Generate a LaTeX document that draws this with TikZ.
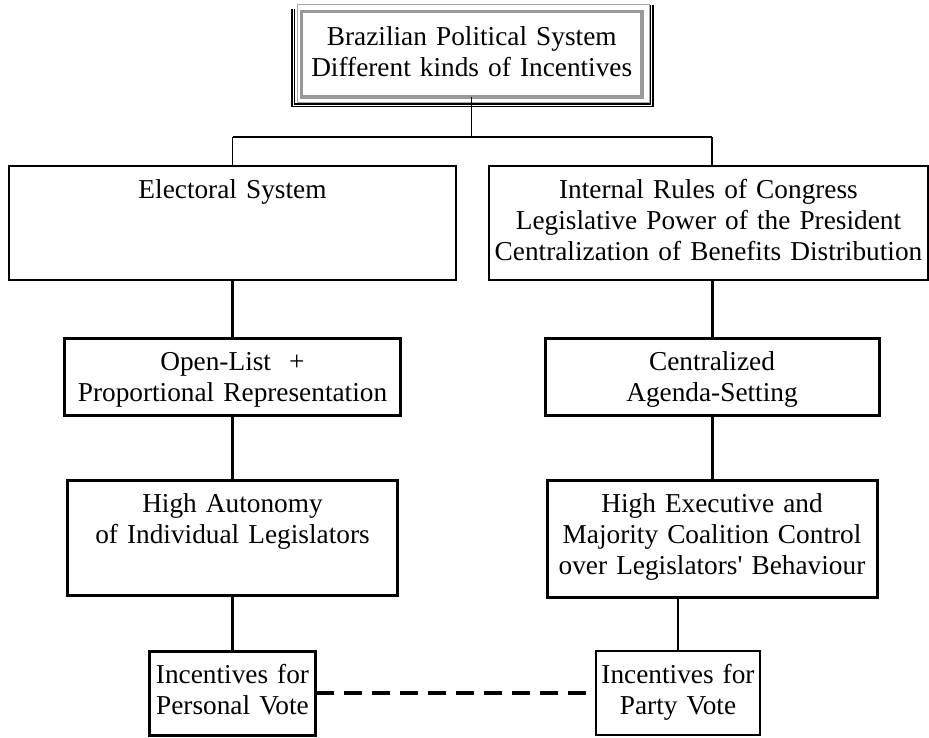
\documentclass[tikz,border=0pt]{standalone}
\usepackage{fontspec}
\setmainfont{Liberation Serif}
\usepackage{tikz}
\usetikzlibrary{positioning}
\tikzstyle{box}     = [rectangle, draw=black, line width=1.3pt, inner sep=0pt, outer sep=0pt, align=center, text height=32pt]
\tikzstyle{boldbox} = [box, line width=3pt]
\tikzstyle{link}    = [line width=1.3pt]
\tikzstyle{boldlink}= [line width=3pt]
\tikzstyle{dashlink}= [line width=4pt, dash pattern=on 18pt off 10pt]

\begin{document}
\begin{tikzpicture}[x=1pt, y=1pt, every node/.style={font=\fontsize{27.3pt}{31pt}\selectfont}]
  \useasboundingbox (0,0) rectangle (929,-737);

  % Top frame
  \node[box, draw=black!40, line width=3.5pt, anchor=north west, text width=340.5pt, text height=33.5pt, text depth=52pt] (sys) at (301.5,-11.5) {Brazilian Political System\\Different kinds of Incentives};
  \draw[black!35, line width=1pt] ([shift={(-4.5,7.5)}]sys.north west) rectangle ([shift={(7,-5)}]sys.south east);
  \draw[line width=1.2pt] ([shift={(-9.5,2.5)}]sys.north west) |- ([shift={(11,-9.5)}]sys.south east) -- ([shift={(11,6.5)}]sys.north east);
  \draw[line width=1.2pt] ([shift={(-7,2.5)}]sys.north west) |- ([shift={(8.5,-7)}]sys.south east) -- ([shift={(8.5,6.5)}]sys.north east);

  % Sources of incentives
  \node[box, text width=447pt, text depth=82pt] (elec) at (232.5,-166) [anchor=north] {Electoral System};
  \node[box, text width=439pt, text depth=82pt] (rules) at (708.5,-166) [anchor=north] {Internal Rules of Congress\\Legislative Power of the President\\Centralization of Benefits Distribution};

  % Left branch
  \node[boldbox, text width=336pt, text depth=45pt, below=58pt of elec] (open) {Open-List\ \ +\\Proportional Representation};
  \node[boldbox, text width=330pt, text depth=83pt, below=65pt of open] (auto) {High Autonomy\\of Individual Legislators};
  \node[boldbox, text width=166pt, text depth=52pt, below=56pt of auto] (pers) {Incentives for\\Personal Vote};

  % Right branch
  \node[boldbox, text width=334pt, text depth=45pt, below=58pt of rules, xshift=3.5pt] (cent) {Centralized\\Agenda-Setting};
  \node[boldbox, text width=330pt, text depth=85pt, below=65pt of cent] (exec) {High Executive and\\Majority Coalition Control\\over Legislators\textquotesingle\ Behaviour};
  \node[box, text width=164pt, text depth=52pt, below=54pt of exec, xshift=-34pt] (party) {Incentives for\\Party Vote};

  % Connections
  \coordinate (fork) at (sys.south |- 0,-137);
  \draw[link] (sys.south) -- (fork);
  \draw[link] (elec.north |- fork) -- (cent.north |- fork);
  \draw[link] (elec.north |- fork) -- (elec.north);
  \draw[link] (cent.north |- fork) -- (cent.north |- rules.north);
  \draw[boldlink] (elec.south) -- (open);
  \draw[boldlink] (open) -- (auto);
  \draw[boldlink] (auto) -- (pers);
  \draw[boldlink] (cent.north |- rules.south) -- (cent);
  \draw[boldlink] (cent) -- (exec);
  \draw[link] (party.north |- exec.south) -- (party);
  \draw[dashlink] (pers) -- (party);
\end{tikzpicture}
\end{document}
